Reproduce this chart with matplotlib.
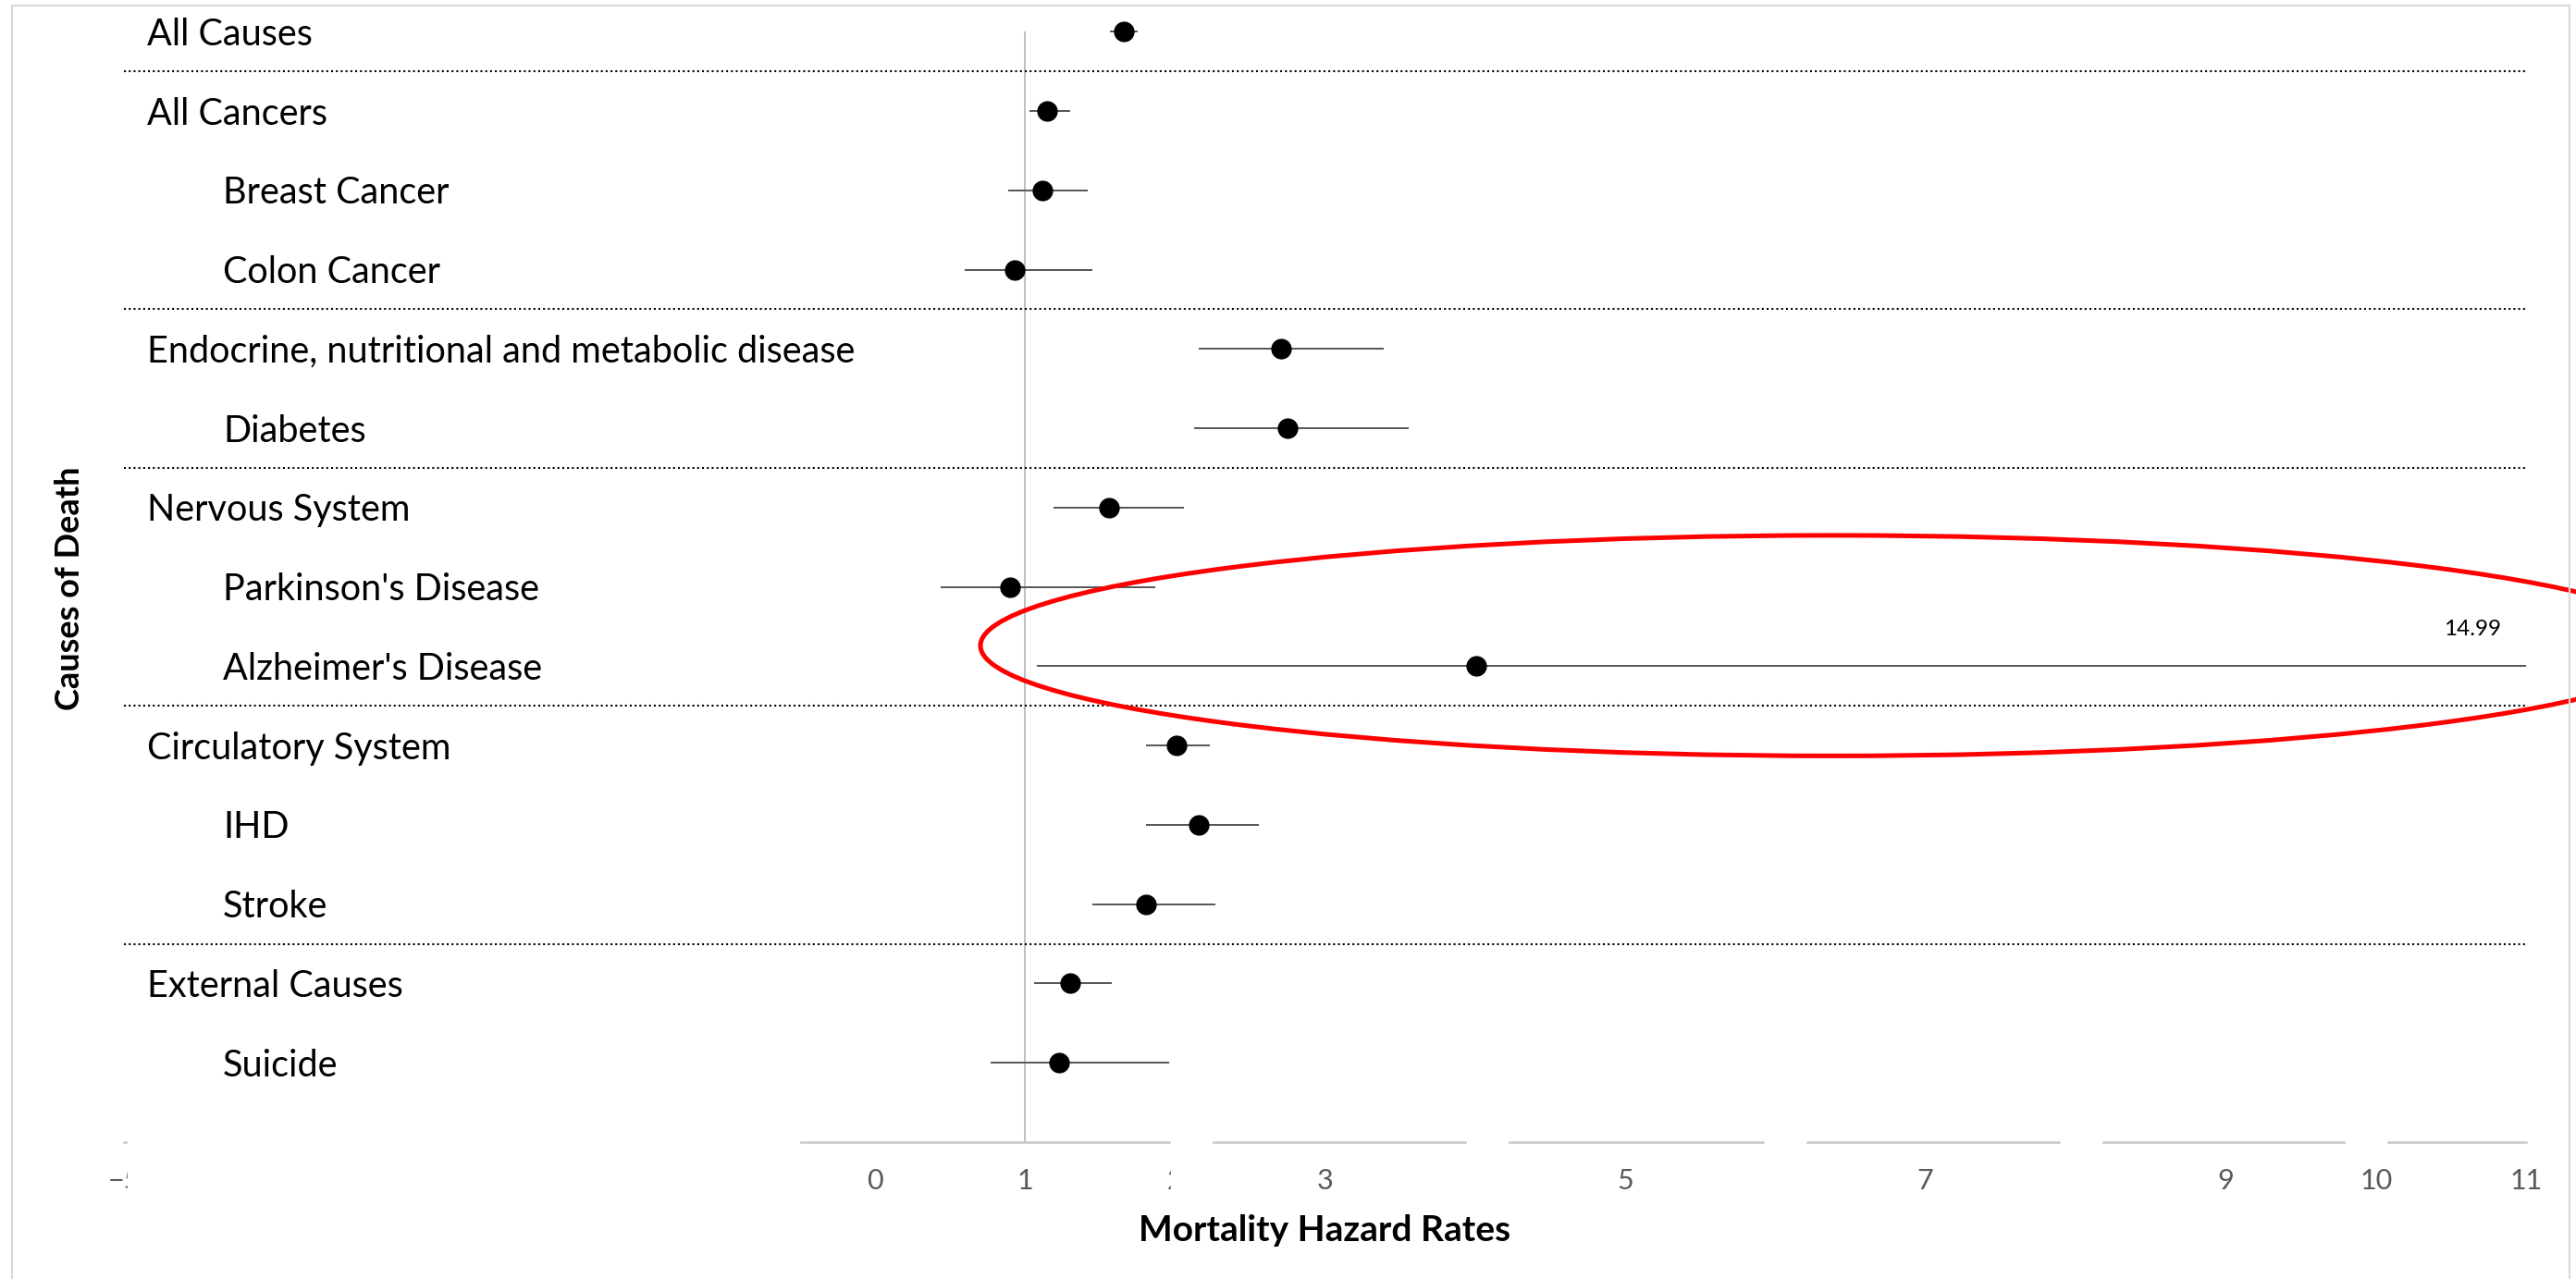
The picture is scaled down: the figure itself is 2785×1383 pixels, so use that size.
import matplotlib.pyplot as plt
from matplotlib.patches import Ellipse, Rectangle
import numpy as np

plt.rcParams['font.family'] = ['Lato', 'DejaVu Sans']

# Causes of death, top to bottom
causes = ["All Causes", "All Cancers", "Breast Cancer", "Colon Cancer",
          "Endocrine, nutritional and metabolic disease", "Diabetes",
          "Nervous System", "Parkinson's Disease", "Alzheimer's Disease",
          "Circulatory System", "IHD", "Stroke",
          "External Causes", "Suicide"]
# 0 = group heading, 1 = sub-cause (indented)
level = [0, 0, 1, 1, 0, 1, 0, 1, 1, 0, 1, 1, 0, 1]

# Hazard ratios with 95% CI
hazard = [1.66, 1.15, 1.12, 0.93, 2.71, 2.75, 1.56, 0.90, 4.01, 2.01, 2.16, 1.81, 1.30, 1.23]
ci_low = [1.57, 1.03, 0.89, 0.60, 2.16, 2.13, 1.19, 0.44, 1.08, 1.81, 1.81, 1.45, 1.06, 0.77]
ci_high = [1.75, 1.30, 1.42, 1.45, 3.39, 3.56, 2.06, 1.87, 14.99, 2.23, 2.56, 2.27, 1.58, 1.96]

x_ticks = list(range(-5, 12))
group_breaks = [0.5, 3.5, 5.5, 8.5, 11.5]

W, H = 2785, 1383
fig = plt.figure(figsize=(W / 100, H / 100), dpi=100)
ax = fig.add_axes([134 / W, 148 / H, 2597 / W, 1235 / H])

rows = np.arange(len(causes))
hz = np.array(hazard)
lo = np.array(ci_low)
hi = np.array(ci_high)

ax.set_xlim(-5, 11)
ax.set_ylim(len(causes), -0.4)

# reference line at HR = 1
ax.vlines(1, 0, len(causes), color='#bfbfbf', lw=1.4, zorder=1)

# dotted lines between groups
ax.hlines(group_breaks, -5, 11, colors='black', lw=1.5,
          linestyles=(0, (1, 1.5)), zorder=1)

# points + CI
ax.errorbar(hz, rows, xerr=[hz - lo, hi - hz], fmt='o', color='black', ms=15,
            ecolor='#555555', elinewidth=1.4, capsize=0, zorder=3)

# value of the CI that runs off the axis
for i in np.where(hi > 11)[0]:
    ax.annotate(f'{hi[i]:.2f}', xy=(11, i), xytext=(-58, 40), textcoords='offset pixels',
                ha='center', va='center', fontsize=17.5, color='black')

# category labels inside the plot
for i, name in enumerate(causes):
    ax.annotate(name, xy=(-5, i), xytext=(25 + 82 * level[i], -3), textcoords='offset pixels',
                ha='left', va='center', fontsize=28.5, color='black')

ax.set_xticks(x_ticks)
ax.set_yticks([])
ax.tick_params(axis='x', length=0, pad=20, labelsize=22, labelcolor='#595959')
for s in ['top', 'left', 'right']:
    ax.spines[s].set_visible(False)
ax.spines['bottom'].set_color('#c8c8c8')
ax.spines['bottom'].set_linewidth(1.8)

ax.set_xlabel('Mortality Hazard Rates', fontsize=28, fontweight='bold', va='center')
ax.xaxis.set_label_coords(0.5, -95 / 1235)
ax.set_ylabel('Causes of Death', fontsize=26, fontweight='bold', va='center')
ax.yaxis.set_label_coords(-59 / 2597, 0.485)

# white boxes hiding parts of the axis and its labels
trans = ax.get_xaxis_transform()
for x0, x1 in [(-4.975, -0.50), (1.975, 2.245), (3.945, 4.215), (5.93, 6.20), (7.90, 8.17)]:
    ax.add_patch(Rectangle((x0, -0.06), x1 - x0, 0.068, transform=trans, color='white',
                           clip_on=False, zorder=5))
ax.add_patch(Rectangle((9.80, -0.01), 0.27, 0.02, transform=trans, color='white',
                       clip_on=False, zorder=5))

# red highlight ellipse round Alzheimer's
ax.add_patch(Ellipse((6.38, 7.74), 11.35, 2.78, fill=False, ec='red', lw=3.6,
                     clip_on=False, zorder=4))

# chart border
fig.add_artist(Rectangle((13 / W, -0.01), (2778 - 13) / W, 1.01 - 6 / H,
                         transform=fig.transFigure, fill=False, ec='#d9d9d9', lw=1.5))

fig.savefig('out.png', dpi=100)
